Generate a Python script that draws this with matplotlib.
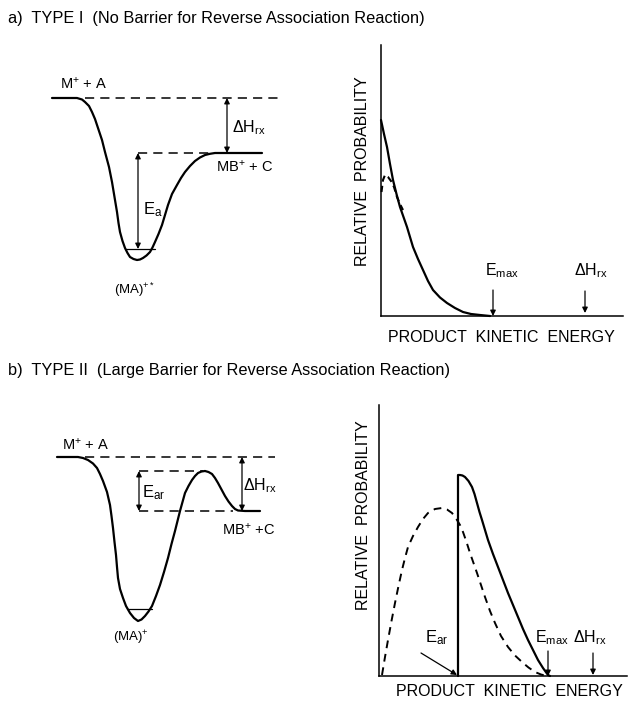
import matplotlib
matplotlib.use('Agg')
import matplotlib.pyplot as plt

plt.rcParams['font.family'] = ['Liberation Sans', 'DejaVu Sans']
plt.rcParams['mathtext.fontset'] = 'custom'
plt.rcParams['mathtext.rm'] = 'Liberation Sans'
plt.rcParams['mathtext.it'] = 'Liberation Sans'
plt.rcParams['mathtext.default'] = 'regular'
plt.rcParams['lines.solid_joinstyle'] = 'round'
plt.rcParams['lines.solid_capstyle'] = 'round'

# ---- potential energy curves (reaction coordinate, energy; arbitrary units, M+ + A = 0)
pes_a_x = [0.2, 2.7, 3.2, 3.5, 3.9, 4.2, 4.5, 4.8, 5.2, 5.5, 5.9, 6.2, 6.45, 6.7, 6.85,
           7.0, 7.25, 7.5, 7.75, 8.0, 8.35, 8.7, 9.0, 9.3, 9.65, 10.0, 10.25, 10.5,
           10.85, 11.2, 11.5, 11.8, 12.2, 12.7, 13.1, 13.5, 14.0, 14.5, 15.0, 15.5,
           16.0, 16.5, 21.2]
pes_a_e = [0.0, 0.0, -0.15, -0.4, -0.8, -1.4, -2.1, -3.0, -4.2, -5.4, -6.9, -8.4, -9.9,
           -11.4, -12.5, -13.4, -14.3, -15.0, -15.5, -15.9, -16.1, -16.2, -16.15, -16.0,
           -15.75, -15.4, -14.95, -14.4, -13.6, -12.7, -11.7, -10.7, -9.6, -8.7, -8.0,
           -7.4, -6.8, -6.3, -5.95, -5.7, -5.58, -5.5, -5.5]

pes_b_x = [0.7, 2.8, 3.3, 3.8, 4.3, 4.7, 5.0, 5.3, 5.7, 6.0, 6.15, 6.3, 6.45, 6.6, 6.7,
           6.8, 7.0, 7.3, 7.6, 8.0, 8.4, 8.8, 9.15, 9.5, 9.85, 10.2, 10.6, 11.0, 11.4,
           11.8, 12.15, 12.5, 12.75, 13.0, 13.25, 13.5, 13.85, 14.2, 14.5, 14.8, 15.15,
           15.5, 15.85, 16.2, 16.5, 16.8, 17.15, 17.5, 17.85, 18.2, 18.5, 18.8, 19.5,
           21.0]
pes_b_e = [0.0, 0.0, -0.1, -0.3, -0.65, -1.1, -1.7, -2.4, -3.5, -4.8, -5.9, -7.1, -8.5,
           -9.8, -11.0, -12.1, -13.2, -14.1, -14.9, -15.6, -16.1, -16.4, -16.25, -15.9,
           -15.45, -14.9, -13.9, -12.8, -11.5, -10.1, -8.7, -7.4, -6.4, -5.4, -4.5,
           -3.6, -2.9, -2.3, -1.9, -1.6, -1.45, -1.4, -1.5, -1.7, -2.1, -2.6, -3.25,
           -3.9, -4.45, -4.9, -5.2, -5.35, -5.4, -5.4]

# levels
dh_a, well_a, ea_x = -5.5, -15.1, 8.8
dh_b, well_b, barrier_b, ear_x = -5.4, -15.2, -1.4, 8.9

# ---- product kinetic energy distributions
ke_a_solid_x = [0.0, 0.3, 0.6, 0.9, 1.2, 1.55, 1.9, 2.25, 2.6, 2.9, 3.2, 3.7, 4.2, 4.7,
                5.2, 5.9, 6.6, 7.4, 8.2, 9.0, 9.9, 10.9]
ke_a_solid_p = [19.6, 18.2, 16.9, 15.2, 13.6, 12.2, 10.9, 9.9, 8.9, 7.9, 6.9, 5.7, 4.6,
                3.5, 2.6, 1.85, 1.3, 0.8, 0.4, 0.2, 0.1, 0.0]
ke_a_dash_x = [0.05, 0.2, 0.4, 0.7, 1.0, 1.3, 1.6, 1.9, 2.2]
ke_a_dash_p = [12.4, 13.6, 14.1, 13.9, 13.5, 12.9, 11.9, 11.2, 10.6]
emax_a, dhrx_a = 11.2, 20.4

ke_b_dash_x = [0.3, 0.6, 0.9, 1.25, 1.6, 1.95, 2.3, 2.6, 2.9, 3.4, 3.9, 4.4, 4.9, 5.6,
               6.3, 6.8, 7.3, 7.8, 8.1, 8.4, 8.75, 9.1, 9.45, 9.8, 10.2, 10.6, 11.1,
               11.6, 12.2, 12.9, 13.6, 14.3, 14.95, 15.6, 16.2, 16.8]
ke_b_dash_p = [0.1, 1.9, 3.6, 5.5, 7.3, 9.0, 10.6, 11.8, 12.9, 14.0, 14.9, 15.7, 16.3,
               16.7, 16.8, 16.65, 16.3, 15.6, 15.1, 14.4, 13.4, 12.3, 11.3, 10.3, 9.1,
               7.9, 6.5, 5.3, 4.0, 2.9, 2.05, 1.4, 0.85, 0.4, 0.15, 0.0]
ke_b_solid_x = [7.9, 7.9, 8.1, 8.35, 8.6, 8.95, 9.3, 9.55, 9.8, 10.05, 10.3, 10.6, 10.9,
                11.4, 11.9, 12.4, 12.9, 13.4, 13.9, 14.4, 14.9, 15.4, 15.9, 16.4, 16.9,
                17.1]
ke_b_solid_p = [0.0, 20.1, 20.1, 20.05, 19.9, 19.5, 18.9, 18.2, 17.3, 16.4, 15.6, 14.6,
                13.6, 12.2, 10.9, 9.6, 8.3, 7.1, 5.9, 4.7, 3.6, 2.6, 1.6, 0.8, 0.1, 0.0]
ear_b, emax_b, dhrx_b = 7.9, 16.9, 21.4

W, H = 629, 703
fig = plt.figure(figsize=(W / 100, H / 100), dpi=100)


def box(x0, y0, x1, y1):
    return fig.add_axes([x0 / W, 1 - y1 / H, (x1 - x0) / W, (y1 - y0) / H])


def arrow(ax, x0, y0, x1, y1, style='-|>'):
    ax.annotate('', xy=(x1, y1), xytext=(x0, y0),
                arrowprops=dict(arrowstyle=style, color='k', lw=0.9,
                                mutation_scale=8, shrinkA=0, shrinkB=0))


dash = dict(color='k', lw=1.1, dashes=[6, 4])
fs = 10.5
lab = 11.5

# ---------------- panel a, potential curve
ax = box(40, 60, 290, 300)
ax.set_xlim(-1, 24)
ax.set_ylim(-20.2, 3.8)
ax.axis('off')
ax.plot(pes_a_x, pes_a_e, color='k', lw=1.6)
ax.plot([3.5, 22.8], [0, 0], **dash)
ax.plot([ea_x, 16.5], [dh_a, dh_a], **dash)
ax.plot([7.5, 10.5], [well_a, well_a], color='k', lw=0.9)
arrow(ax, ea_x, dh_a, ea_x, well_a, '<|-|>')
arrow(ax, 17.7, 0, 17.7, dh_a, '<|-|>')
ax.text(3.4, 1.4, 'M$^{+}$ + A', ha='center', va='center', fontsize=fs)
ax.text(18.2, -3.0, r'$\Delta$H$_{rx}$', ha='left', va='center', fontsize=fs + 1)
ax.text(19.5, -6.9, 'MB$^{+}$ + C', ha='center', va='center', fontsize=fs)
ax.text(9.3, -11.2, 'E$_{a}$', ha='left', va='center', fontsize=fs + 1.5)
ax.text(8.5, -19.2, '(MA)$^{+*}$', ha='center', va='center', fontsize=fs - 1)

# ---------------- panel a, distribution
ax = box(381, 45, 623, 316)
ax.set_xlim(0, 24.2)
ax.set_ylim(0, 27.1)
for s in ['top', 'right']:
    ax.spines[s].set_visible(False)
ax.spines['left'].set_linewidth(1.1)
ax.spines['bottom'].set_linewidth(1.1)
ax.set_xticks([])
ax.set_yticks([])
ax.plot(ke_a_solid_x, ke_a_solid_p, color='k', lw=1.6, clip_on=False)
ax.plot(ke_a_dash_x, ke_a_dash_p, color='k', lw=1.5, dashes=[3, 2], clip_on=False)
arrow(ax, emax_a, 2.6, emax_a, 0.0)
arrow(ax, dhrx_a, 2.5, dhrx_a, 0.3)
ax.text(10.4, 3.6, 'E$_{max}$', ha='left', va='bottom', fontsize=fs + 1)
ax.text(19.3, 3.6, r'$\Delta$H$_{rx}$', ha='left', va='bottom', fontsize=fs + 1)
ax.text(-1.8, 14.45, 'RELATIVE  PROBABILITY', rotation=90, ha='center', va='center',
        fontsize=lab)
ax.text(12.05, -2.1, 'PRODUCT  KINETIC  ENERGY', ha='center', va='center', fontsize=lab)

# ---------------- panel b, potential curve
ax = box(40, 419, 290, 659)
ax.set_xlim(-1, 24)
ax.set_ylim(-20.2, 3.8)
ax.axis('off')
ax.plot(pes_b_x, pes_b_e, color='k', lw=1.6)
ax.plot([3.5, 22.5], [0, 0], **dash)
ax.plot([ear_x, 15.3], [barrier_b, barrier_b], **dash)
ax.plot([ear_x, 18.3], [dh_b, dh_b], **dash)
ax.plot([7.7, 10.2], [well_b, well_b], color='k', lw=0.9)
arrow(ax, ear_x, barrier_b, ear_x, dh_b, '<|-|>')
arrow(ax, 19.2, 0, 19.2, dh_b, '<|-|>')
ax.text(3.6, 1.2, 'M$^{+}$ + A', ha='center', va='center', fontsize=fs)
ax.text(9.2, -3.6, 'E$_{ar}$', ha='left', va='center', fontsize=fs + 1.5)
ax.text(19.3, -2.9, r'$\Delta$H$_{rx}$', ha='left', va='center', fontsize=fs + 1)
ax.text(19.9, -7.3, 'MB$^{+}$ +C', ha='center', va='center', fontsize=fs)
ax.text(8.1, -18.1, '(MA)$^{+}$', ha='center', va='center', fontsize=fs - 1)

# ---------------- panel b, distribution
ax = box(379, 405, 627, 676)
ax.set_xlim(0, 24.8)
ax.set_ylim(0, 27.1)
for s in ['top', 'right']:
    ax.spines[s].set_visible(False)
ax.spines['left'].set_linewidth(1.1)
ax.spines['bottom'].set_linewidth(1.1)
ax.set_xticks([])
ax.set_yticks([])
ax.plot(ke_b_dash_x, ke_b_dash_p, color='k', lw=1.4, dashes=[4, 3], clip_on=False)
ax.plot(ke_b_solid_x, ke_b_solid_p, color='k', lw=1.6, clip_on=False)
arrow(ax, 4.2, 2.3, ear_b - 0.1, 0.1)
arrow(ax, emax_b, 2.5, emax_b, 0.0)
arrow(ax, dhrx_b, 2.3, dhrx_b, 0.1)
ax.text(4.6, 3.8, 'E$_{ar}$', ha='left', va='center', fontsize=fs + 1.5)
ax.text(15.6, 3.8, 'E$_{max}$', ha='left', va='center', fontsize=fs + 1)
ax.text(19.4, 3.8, r'$\Delta$H$_{rx}$', ha='left', va='center', fontsize=fs + 1)
ax.text(-1.6, 16.1, 'RELATIVE  PROBABILITY', rotation=90, ha='center', va='center',
        fontsize=lab)
ax.text(13.05, -1.6, 'PRODUCT  KINETIC  ENERGY', ha='center', va='center', fontsize=lab)

# ---------------- titles
fig.text(8 / W, 1 - 18 / H, 'a)  TYPE I  (No Barrier for Reverse Association Reaction)',
         ha='left', va='center', fontsize=11.8)
fig.text(8 / W, 1 - 370 / H, 'b)  TYPE II  (Large Barrier for Reverse Association Reaction)',
         ha='left', va='center', fontsize=11.8)

fig.savefig('out.png', dpi=100, facecolor='white')
